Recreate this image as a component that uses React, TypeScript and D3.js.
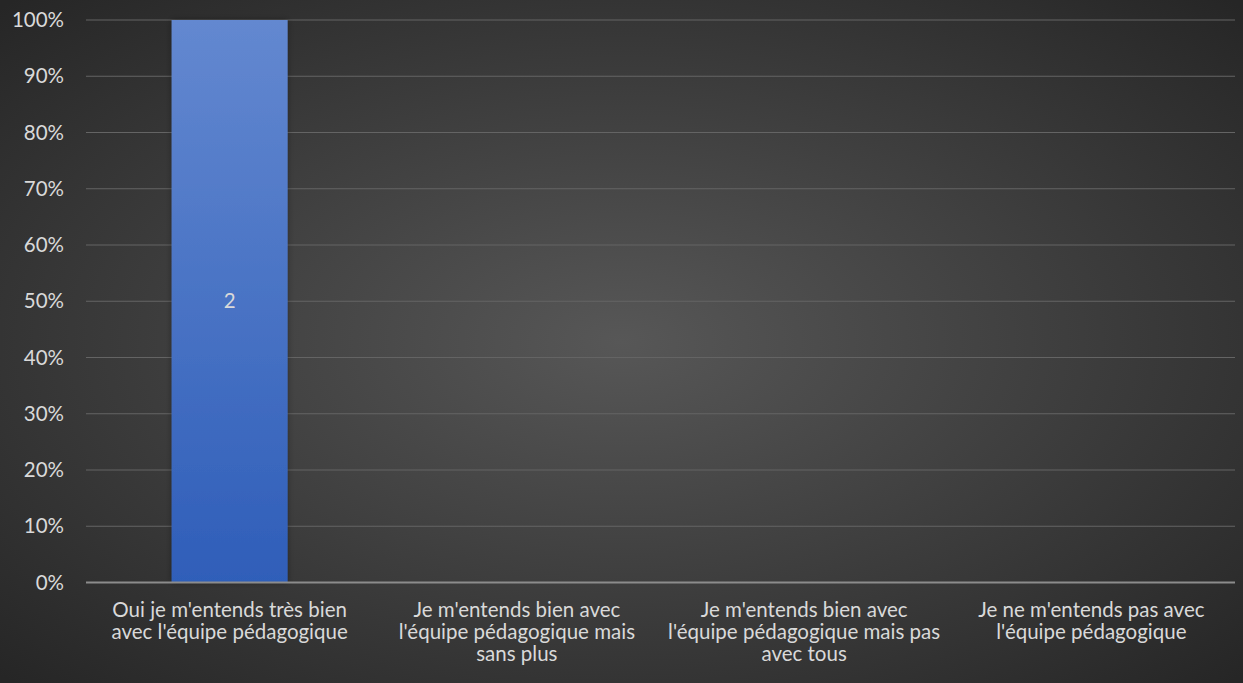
import React from "react";
import * as d3 from "d3";

const categories: string[][] = [
  ["Oui je m'entends très bien", "avec l'équipe pédagogique"],
  ["Je m'entends bien avec", "l'équipe pédagogique mais", "sans plus"],
  ["Je m'entends bien avec", "l'équipe pédagogique mais pas", "avec tous"],
  ["Je ne m'entends pas avec", "l'équipe pédagogique"],
];
const percentValues = [1, 0, 0, 0];
const countLabels = ["2", "", "", ""];
const yTicks = [0, 0.1, 0.2, 0.3, 0.4, 0.5, 0.6, 0.7, 0.8, 0.9, 1];

const W = 1243;
const H = 683;
const FONT = "Lato, 'Open Sans', sans-serif";
const FS = 20.5;

export default function App() {
  const left = 86;
  const right = 1235;
  const top = 20;
  const bottom = 582.5;
  const keys = categories.map((_, i) => String(i));
  const x = d3.scaleBand<string>().domain(keys).range([left, right]).paddingInner(0.596).paddingOuter(0.298);
  const y = d3.scaleLinear().domain([0, 1]).range([bottom, top]);
  const fmt = d3.format(".0%");
  const band = (right - left) / categories.length;

  return (
    <div style={{ position: "absolute", left: 0, top: 0 }}>
      <svg width={W} height={H} style={{ display: "block" }}>
        <defs>
          <radialGradient id="bg" cx="50%" cy="50%" r="70%">
            <stop offset="0%" stopColor="#575757" />
            <stop offset="100%" stopColor="#262626" />
          </radialGradient>
          <linearGradient id="bar" x1="0" y1="0" x2="0" y2="1">
            <stop offset="0%" stopColor="#6388d0" />
            <stop offset="100%" stopColor="#2f5eb9" />
          </linearGradient>
          <filter id="sh" x="-20%" y="-5%" width="140%" height="110%">
            <feDropShadow dx="0" dy="0" stdDeviation="3" floodColor="#000" floodOpacity="0.35" />
          </filter>
        </defs>
        <rect x={0} y={0} width={W} height={H} fill="url(#bg)" />
        {yTicks.map((t) => (
          <g key={t}>
            {t > 0 && (
              <line x1={left} x2={right} y1={y(t)} y2={y(t)} stroke="#646464" strokeWidth={1.2} />
            )}
            <text
              x={64}
              y={y(t)}
              dy="0.35em"
              textAnchor="end"
              fill="#d9d9d9"
              fontFamily={FONT}
              fontSize={FS}
            >
              {fmt(t)}
            </text>
          </g>
        ))}
        {percentValues.map((v, i) =>
          v > 0 ? (
            <g key={i}>
              <rect
                x={x(String(i))!}
                y={y(v)}
                width={x.bandwidth()}
                height={y(0) - y(v)}
                fill="url(#bar)"
                filter="url(#sh)"
              />
              <text
                x={x(String(i))! + x.bandwidth() / 2}
                y={(y(v) + y(0)) / 2}
                dy="0.35em"
                textAnchor="middle"
                fill="#d9d9d9"
                fontFamily={FONT}
                fontSize={FS}
              >
                {countLabels[i]}
              </text>
            </g>
          ) : null
        )}
        <line x1={left} x2={right} y1={y(0)} y2={y(0)} stroke="#8c8c8c" strokeWidth={2} />
        {categories.map((lines, i) => (
          <text
            key={i}
            x={left + band * i + band / 2}
            y={610}
            textAnchor="middle"
            fill="#d9d9d9"
            fontFamily={FONT}
            fontSize={FS}
          >
            {lines.map((l, j) => (
              <tspan key={j} x={left + band * i + band / 2} dy={j === 0 ? "0.35em" : 22}>
                {l}
              </tspan>
            ))}
          </text>
        ))}
      </svg>
    </div>
  );
}
